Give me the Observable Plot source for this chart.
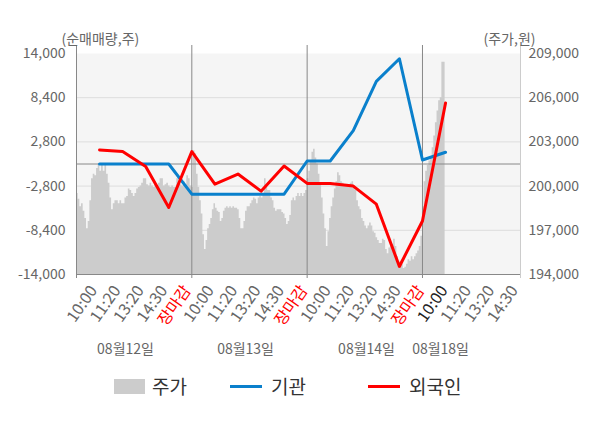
<!DOCTYPE html>
<html>
<head>
<meta charset="utf-8">
<script src="https://cdn.jsdelivr.net/npm/d3@7"></script>
<script src="https://cdn.jsdelivr.net/npm/@observablehq/plot@0.6"></script>
<style>
  body { margin: 0; background: #fff; font-family: "Noto Sans CJK KR", "Noto Sans", sans-serif; }
  #wrap { position: relative; width: 600px; height: 428px; overflow: hidden; }
  #legend { position: absolute; left: 0; top: 370px; width: 600px; height: 58px; color: #333; font-size: 19px; }
  .item { position: absolute; top: 16px; height: 0; }
  .sw { position: absolute; }
  .lab { position: absolute; top: -14px; line-height: 28px; white-space: nowrap; }
</style>
</head>
<body>
<div id="wrap">
  <div id="chart"></div>
  <div id="legend"></div>
</div>
<script>
// ---------- data ----------
const dayLabels = ["08월12일", "08월13일", "08월14일", "08월18일"];
const timeLabels = ["10:00", "11:20", "13:20", "14:30", "장마감"];
const leftTicks = [-14000, -8400, -2800, 2800, 8400, 14000];
const rightTicks = [194000, 197000, 200000, 203000, 206000, 209000];
const legendNames = ["주가", "기관", "외국인"];

// intraday price (원), sampled evenly through each session
const price0812 = [199500,199100,198600,198800,198300,197800,197100,197600,199000,200500,
  200800,200700,201200,201500,201000,201400,201000,201500,200800,200200,
  199200,198400,198800,199000,199000,198800,199000,198800,198800,199200,
  199300,199800,199700,199500,199300,199500,199800,199900,200000,200200,
  200500,200500,200100,200000,200200,200000,199900,200100,200000,200200,
  200500,200500,200000,200100,200200,200000,199900,200000,199900,199900,
  200500,200200,200100,200000,200300,200100,200700,200500,200000];
const price0813 = [199900,202400,202200,200800,199900,199000,198100,196700,195700,196300,
  197100,197400,197800,198400,198800,198500,198300,198200,197600,197800,
  198300,198500,198600,198500,198600,198500,198600,198500,198500,198400,
  197800,197100,197100,197600,198300,198600,198600,198800,199000,199200,
  199100,198800,199200,199300,199200,199500,200500,199900,199700,199700,
  199200,199000,198500,198300,198400,198400,198400,198200,198100,197800,
  197400,197600,198000,199000,199200,199000,199300,199500,199300,199500,
  199300,199500,199700];
const price0814 = [200500,201000,201700,202300,202500,201900,201500,200800,200100,199200,
  198100,197100,195900,196900,197800,198600,199200,199800,200300,200900,
  200700,200300,200200,200100,200000,200000,199900,200200,200300,200000,
  199700,199000,198600,198400,197800,197600,197300,197100,197300,197500,
  197300,196900,196800,196500,196300,196100,196100,196400,196300,195700,
  195400,195800,195900,196000,196400,195900,195200,194700,194900,194700,
  194400,194500,194700,195000,194900,195200,195000,195200,195400,195600,
  195900,196600];
const price0818 = [198600,200300,201000,201400,201700,202000,202600,203400,204300,205100,
  205800,206000,208400,208400,208400];

// net buying (주) at 10:00, 11:20, 13:20, 14:30, 장마감 of each day
const institution = [0, 0, 0, 0, -3820, -3820, -3820, -3820, -3820, 380, 380, 4240, 10470, 13330, 510, 1490];
const foreign = [1780, 1590, -320, -5510, 1570, -2550, -1270, -3440, -250, -2460, -2460, -2800, -5090, -12980, -7220, 7730];

// ---------- derived ----------
const xMax = 3.85; // visible span in trading days
const toPrice = d3.scaleLinear().domain(d3.extent(leftTicks)).range(d3.extent(rightTicks));
const fromPrice = d3.scaleLinear().domain(d3.extent(rightTicks)).range(d3.extent(leftTicks));
const priceDays = [price0812, price0813, price0814, price0818];
const density = d3.mean(priceDays.slice(0, 3), a => a.length);
const priceData = priceDays.flatMap((arr, d) =>
  arr.map((p, i) => ({x: d + i / (d < 3 ? arr.length : density), y: fromPrice(p)})));
const perDay = timeLabels.length;
const instData = institution.map((v, j) => ({x: (j + 1) / perDay, y: v}));
const forData = foreign.map((v, j) => ({x: (j + 1) / perDay, y: v}));

const allLabels = dayLabels.flatMap((day, di) =>
  timeLabels.map((t, ti) => ({text: t, day: di, idx: ti}))).slice(0, dayLabels.length * perDay - 1);
allLabels.forEach((l, i) => {
  l.x = (i + 1) * xMax / allLabels.length;
  l.color = l.idx === perDay - 1 ? "#ff0000" : (l.day === dayLabels.length - 1 && l.idx === 0 ? "#222" : "#666");
});
const datePos = [0.425, 1.466, 2.515, 3.157];
const dateData = dayLabels.map((t, i) => ({text: t, x: datePos[i]}));
const dayStarts = d3.range(1, dayLabels.length);

const fmt = d3.format(",");
const fmtSigned = d => (d < 0 ? "-" : "") + fmt(Math.abs(d));

const chart = Plot.plot({
  width: 600,
  height: 370,
  marginLeft: 76,
  marginRight: 80,
  marginTop: 53,
  marginBottom: 96,
  style: {fontFamily: "'Noto Sans CJK KR', 'Noto Sans', sans-serif", fontSize: "14px", background: "#fff", overflow: "visible"},
  x: {domain: [0, xMax], axis: null},
  y: {domain: d3.extent(leftTicks)},
  marks: [
    Plot.frame({fill: "#f5f5f5", stroke: null}),
    Plot.ruleY(leftTicks.slice(1, -1), {stroke: "#dddddd", strokeWidth: 1}),
    Plot.areaY(priceData, {x: "x", y1: leftTicks[0], y2: "y", fill: "#cccccc", curve: "step-after"}),
    Plot.ruleY([0], {stroke: "#888", strokeWidth: 1}),
    Plot.ruleY([leftTicks[0]], {stroke: "#888", strokeWidth: 1}),
    Plot.ruleX([0, ...dayStarts], {stroke: "#888", strokeWidth: 1, insetTop: -8, insetBottom: -4}),
    Plot.ruleX([xMax], {stroke: "#cccccc", strokeWidth: 1, insetTop: -8, insetBottom: -4}),
    Plot.line(instData, {x: "x", y: "y", stroke: "#0a80cc", strokeWidth: 3}),
    Plot.line(forData, {x: "x", y: "y", stroke: "#ff0000", strokeWidth: 3}),
    Plot.axisY(leftTicks, {anchor: "left", tickSize: 0, tickPadding: 11, tickFormat: fmtSigned, color: "#666", fontSize: 14, label: null}),
    Plot.axisY(leftTicks, {anchor: "right", tickSize: 0, tickPadding: 8, tickFormat: d => fmt(Math.round(toPrice(d))), color: "#666", fontSize: 14, label: null}),
    Plot.text(allLabels, {x: "x", text: "text", fill: "color", frameAnchor: "bottom", rotate: -55, textAnchor: "end", dx: -2, dy: 16, fontSize: 16}),
    Plot.text(dateData, {x: "x", text: "text", frameAnchor: "bottom", dy: 79, fill: "#666", fontSize: 14}),
    Plot.text(["(순매매량,주)"], {frameAnchor: "top-left", dx: -15, dy: -19, fill: "#666", fontSize: 14}),
    Plot.text(["(주가,원)"], {frameAnchor: "top-right", dx: 15, dy: -19, fill: "#666", fontSize: 14})
  ]
});
document.getElementById("chart").appendChild(chart);

// legend
const legend = document.getElementById("legend");
const items = [
  {name: legendNames[0], sw: {left: 114, w: 31, h: 15, bg: "#cccccc"}, lab: 152},
  {name: legendNames[1], sw: {left: 230, w: 32, h: 3, bg: "#0a80cc"}, lab: 271},
  {name: legendNames[2], sw: {left: 368, w: 32, h: 3, bg: "#ff0000"}, lab: 409}
];
for (const it of items) {
  const d = document.createElement("div");
  d.className = "item";
  d.style.left = "0px";
  const s = document.createElement("div");
  s.className = "sw";
  s.style.left = it.sw.left + "px";
  s.style.width = it.sw.w + "px";
  s.style.height = it.sw.h + "px";
  s.style.top = (-it.sw.h / 2) + "px";
  s.style.background = it.sw.bg;
  const l = document.createElement("div");
  l.className = "lab";
  l.style.left = it.lab + "px";
  l.textContent = it.name;
  d.appendChild(s);
  d.appendChild(l);
  legend.appendChild(d);
}
</script>
</body>
</html>
